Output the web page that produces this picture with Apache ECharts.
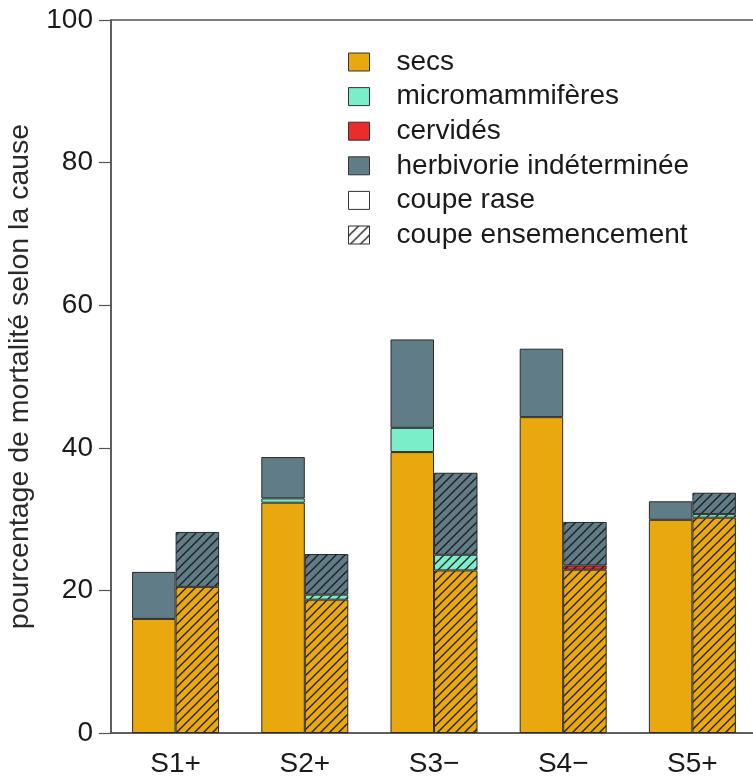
<!DOCTYPE html>
<html>
<head>
<meta charset="utf-8">
<script src="https://cdn.jsdelivr.net/npm/echarts@6/dist/echarts.min.js"></script>
<style>
html,body{margin:0;padding:0;background:#fff;}
#c{width:753px;height:776px;}
</style>
</head>
<body>
<div id="c"></div>
<script>
// ---- data ----
const categories = ['S1+', 'S2+', 'S3\u2212', 'S4\u2212', 'S5+'];
const yTicks = [0, 20, 40, 60, 80, 100];
// coupe rase (solid bars)
const raseSecs  = [16.0, 32.3, 39.4, 44.3, 29.9];
const raseMicro = [0, 0.6, 3.4, 0, 0];
const raseCerv  = [0, 0, 0, 0, 0];
const raseHerb  = [6.6, 5.8, 12.4, 9.6, 2.6];
// coupe ensemencement (hatched bars)
const ensSecs  = [20.5, 18.7, 22.8, 22.9, 30.2];
const ensMicro = [0, 0.7, 2.2, 0, 0.5];
const ensCerv  = [0, 0, 0, 0.6, 0];
const ensHerb  = [7.7, 5.7, 11.5, 6.1, 3.0];

const causeNames = ['secs', 'micromammifères', 'cervidés', 'herbivorie indéterminée'];
const causeColors = ['#E9A90E', '#7AEDC9', '#EC2B2B', '#607C86'];
const treatNames = ['coupe rase', 'coupe ensemencement'];

function hatch(bg, s) {
  const c = document.createElement('canvas');
  c.width = s; c.height = s;
  const g = c.getContext('2d');
  g.fillStyle = bg; g.fillRect(0, 0, s, s);
  g.strokeStyle = '#1c1c1c'; g.lineWidth = 1.3;
  g.beginPath();
  g.moveTo(-1, s + 1); g.lineTo(s + 1, -1);
  g.moveTo(-1, 1); g.lineTo(1, -1);
  g.moveTo(s - 1, s + 1); g.lineTo(s + 1, s - 1);
  g.stroke();
  return { image: c, repeat: 'repeat' };
}
const nz = a => a.map(v => (v === 0 ? '-' : v));

const raseData = [raseSecs, raseMicro, raseCerv, raseHerb];
const ensData = [ensSecs, ensMicro, ensCerv, ensHerb];
const series = [];
const BW = 43.5;
const border = { borderColor: '#2a2a2a', borderWidth: 1 };
causeNames.forEach((n, i) => {
  series.push({
    name: n, type: 'bar', stack: 'rase', barWidth: BW, barGap: '0%',
    data: nz(raseData[i]),
    itemStyle: Object.assign({ color: causeColors[i] }, border),
    emphasis: { disabled: true }
  });
});
causeNames.forEach((n, i) => {
  series.push({
    name: n, type: 'bar', stack: 'ens', barWidth: BW, barGap: '0%',
    data: nz(ensData[i]),
    itemStyle: Object.assign({ color: hatch(causeColors[i], 9) }, border),
    emphasis: { disabled: true }
  });
});
series.push({ name: treatNames[0], type: 'bar', stack: 'rase', data: [], barWidth: BW, barGap: '0%' });
series.push({ name: treatNames[1], type: 'bar', stack: 'ens', data: [], barWidth: BW, barGap: '0%' });

const legendData = causeNames.map((n, i) => ({
  name: n, itemStyle: { color: causeColors[i], borderColor: '#333', borderWidth: 1 }
})).concat([
  { name: treatNames[0], itemStyle: { color: '#fff', borderColor: '#333', borderWidth: 1 } },
  { name: treatNames[1], itemStyle: { color: hatch('#fff', 10), borderColor: '#333', borderWidth: 1 } }
]);

const FONT = 'Liberation Sans, Arial, Helvetica, sans-serif';
const chart = echarts.init(document.getElementById('c'), null, { renderer: 'canvas' });
chart.setOption({
  animation: false,
  backgroundColor: '#fff',
  textStyle: { fontFamily: FONT },
  grid: { left: 111, top: 20, width: 646, height: 713, show: true, borderColor: '#555', borderWidth: 1.5,
          containLabel: false, outerBoundsMode: 'none' },
  legend: {
    orient: 'vertical', left: 348, top: 48, padding: 0,
    itemWidth: 21, itemHeight: 18, itemGap: 6.6,
    icon: 'rect', selectedMode: false,
    textStyle: { fontSize: 28, lineHeight: 28, color: '#1a1a1a', padding: [0, 0, 0, 22] },
    data: legendData
  },
  xAxis: {
    type: 'category', data: categories,
    axisLine: { lineStyle: { color: '#555', width: 1.5 } },
    axisTick: { show: false },
    axisLabel: { fontSize: 28, color: '#1a1a1a', margin: 17 }
  },
  yAxis: {
    type: 'value', min: yTicks[0], max: yTicks[yTicks.length - 1], interval: yTicks[1] - yTicks[0],
    name: 'pourcentage de mortalité selon la cause', nameLocation: 'middle', nameGap: 76,
    nameTextStyle: { fontSize: 28.5, color: '#2a2a2a' },
    axisLine: { show: true, lineStyle: { color: '#555', width: 1.5 } },
    axisTick: { show: true, inside: false, length: 12, lineStyle: { color: '#555', width: 1.2 } },
    axisLabel: { fontSize: 28, color: '#1a1a1a', margin: 18 },
    splitLine: { show: false }
  },
  series: series
});
</script>
</body>
</html>
